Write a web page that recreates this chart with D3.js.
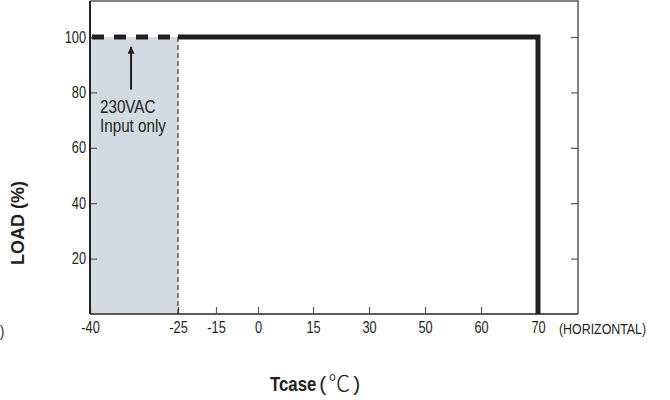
<!DOCTYPE html>
<html>
<head>
<meta charset="utf-8">
<script src="https://cdn.jsdelivr.net/npm/d3@7"></script>
<style>
  body { margin: 0; background: #fff; }
  svg { display: block; }
  text { font-family: "Liberation Sans", Arial, sans-serif; fill: #231f20; }
</style>
</head>
<body>
<div class="vis-derating"></div>
<script>
// x ticks (temperature, not evenly spaced in the original)
const xTicks = [-40, -25, -15, 0, 15, 30, 50, 60, 70];
const yTicks = [20, 40, 60, 80, 100];

// derating curve
const loadCurve = [
  { t: -25, load: 100 },
  { t: 70, load: 100 },
  { t: 70, load: 0 }
];
// 230VAC only part
const inputOnlyCurve = [
  { t: -40, load: 100 },
  { t: -25, load: 100 }
];
const inputOnlyBand = { from: -40, to: -25, load: 100 };
const arrowAt = { t: -33, from: 81, to: 96.5 };
const noteLines = ['230VAC', 'Input only'];

const margin = { top: 1, right: 92, bottom: 86, left: 90 };
const width = 670 - margin.left - margin.right;
const height = 400 - margin.top - margin.bottom;

// tick positions along the axis (the original axis is drawn by hand, not linear)
const xStops = [0, 88, 126, 168, 223, 279, 335, 391, 448];

const x = d3.scaleLinear().domain(xTicks).range(xStops);
const y = d3.scaleLinear().domain([0, 113]).range([height, 0]);

// squeeze text a bit, the original uses a condensed face
function narrow(sel, k) {
  sel.each(function () {
    const w = this.getComputedTextLength() * k;
    d3.select(this)
      .attr('lengthAdjust', 'spacingAndGlyphs')
      .attr('textLength', w);
  });
}

const svg = d3.select('.vis-derating').append('svg')
  .attr('width', 670)
  .attr('height', 400);

svg.append('defs').append('marker')
  .attr('id', 'arrowhead')
  .attr('viewBox', '0 0 10 10')
  .attr('refX', 10).attr('refY', 5)
  .attr('markerWidth', 11).attr('markerHeight', 7)
  .attr('markerUnits', 'userSpaceOnUse')
  .attr('orient', 'auto')
  .append('path')
  .attr('d', 'M0,0 L10,5 L0,10 Z')
  .attr('fill', '#231f20');

const g = svg.append('g')
  .attr('transform', `translate(${margin.left},${margin.top})`);

// shaded band
g.append('rect')
  .attr('x', x(inputOnlyBand.from))
  .attr('y', y(inputOnlyBand.load))
  .attr('width', x(inputOnlyBand.to) - x(inputOnlyBand.from))
  .attr('height', y(0) - y(inputOnlyBand.load))
  .attr('fill', '#d3dae0');

// frame top / right
g.append('path')
  .attr('d', `M0,0 H${width} V${height}`)
  .attr('fill', 'none')
  .attr('stroke', '#58595b')
  .attr('stroke-width', 1.5);

// axes with inward ticks
const xAxis = d3.axisBottom(x).tickValues(xTicks).tickSize(-7).tickPadding(8)
  .tickFormat(d => String(d));
const gx = g.append('g').attr('transform', `translate(0,${height})`).call(xAxis);
gx.select('.domain').remove();
gx.selectAll('line').attr('stroke', '#58595b').attr('stroke-width', 1.2);
gx.selectAll('text').style('font-size', '16px').attr('fill', '#231f20')
  .style('font-family', '"Liberation Sans", Arial, sans-serif')
  .call(narrow, 0.8);

const yAxis = d3.axisLeft(y).tickValues(yTicks).tickSize(-7).tickPadding(4);
const gy = g.append('g').call(yAxis);
gy.select('.domain').remove();
gy.selectAll('line').attr('stroke', '#58595b').attr('stroke-width', 1.2);
gy.selectAll('text').style('font-size', '16px').attr('fill', '#231f20')
  .style('font-family', '"Liberation Sans", Arial, sans-serif')
  .call(narrow, 0.8);

const yAxisR = d3.axisRight(y).tickValues(yTicks).tickSize(-7).tickFormat('');
const gyr = g.append('g').attr('transform', `translate(${width},0)`).call(yAxisR);
gyr.select('.domain').remove();
gyr.selectAll('line').attr('stroke', '#58595b').attr('stroke-width', 1.2);

// bottom and left axis lines
g.append('line')
  .attr('x1', 0).attr('x2', width)
  .attr('y1', height).attr('y2', height)
  .attr('stroke', '#58595b').attr('stroke-width', 2);
g.append('line')
  .attr('x1', 0).attr('x2', 0)
  .attr('y1', 0).attr('y2', height)
  .attr('stroke', '#231f20').attr('stroke-width', 2);

// thin dashed border of the band
g.append('line')
  .attr('x1', x(inputOnlyBand.to)).attr('x2', x(inputOnlyBand.to))
  .attr('y1', y(inputOnlyBand.load)).attr('y2', y(0))
  .attr('stroke', '#231f20')
  .attr('stroke-width', 1.1)
  .attr('stroke-dasharray', '5,3');

const line = d3.line().x(d => x(d.t)).y(d => y(d.load));

g.append('path')
  .datum(inputOnlyCurve)
  .attr('d', line)
  .attr('fill', 'none')
  .attr('stroke', '#231f20')
  .attr('stroke-width', 5)
  .attr('stroke-dasharray', '12,10')
  .attr('stroke-dashoffset', -2);

g.append('path')
  .datum(loadCurve)
  .attr('d', line)
  .attr('fill', 'none')
  .attr('stroke', '#231f20')
  .attr('stroke-width', 5)
  .attr('stroke-linejoin', 'miter');

// annotation
g.append('line')
  .attr('x1', x(arrowAt.t)).attr('x2', x(arrowAt.t))
  .attr('y1', y(arrowAt.from)).attr('y2', y(arrowAt.to))
  .attr('stroke', '#231f20')
  .attr('stroke-width', 2)
  .attr('marker-end', 'url(#arrowhead)');

g.selectAll('.note')
  .data(noteLines)
  .enter().append('text')
  .attr('class', 'note')
  .attr('x', x(inputOnlyBand.from) + 10)
  .attr('y', (d, i) => y(arrowAt.from) + 23 + i * 19)
  .style('font-size', '19px')
  .text(d => d)
  .call(narrow, 0.8);

// axis titles
g.append('text')
  .attr('transform', `translate(${x(70) + 21},${height + 20}) scale(0.8,1)`)
  .style('font-size', '15.5px')
  .text('(HORIZONTAL)');

// only the closing bracket of "(VERTICAL)" is left inside the picture
svg.append('text')
  .attr('x', 0)
  .attr('y', 337)
  .style('font-size', '16px')
  .text(')')
  .call(narrow, 0.8);

svg.append('text')
  .attr('transform', 'translate(24,223) rotate(-90)')
  .attr('text-anchor', 'middle')
  .style('font-size', '18px')
  .style('font-weight', 'bold')
  .text('LOAD (%)');

// "Tcase (℃)" built from pieces, the unit sign is in a lighter face
const titleParts = [
  { s: 'Tcase', size: 21, weight: 'bold', k: 0.8, gap: 3 },
  { s: '(', size: 21, weight: 'normal', k: 1, gap: 2 },
  { s: '℃', size: 22, weight: 'normal', k: 1, gap: 3, cjk: true },
  { s: ')', size: 21, weight: 'normal', k: 1, gap: 0 }
];
const title = svg.append('g');
let tx = 270;
titleParts.forEach(p => {
  const t = title.append('text')
    .attr('transform', `translate(${tx},391) scale(${p.k},1)`)
    .style('font-size', p.size + 'px')
    .style('font-weight', p.weight)
    .text(p.s);
  if (p.cjk) t.style('font-family', '"Noto Sans CJK SC", sans-serif').style('font-weight', 300);
  tx += t.node().getComputedTextLength() * p.k + p.gap;
});
</script>
</body>
</html>
